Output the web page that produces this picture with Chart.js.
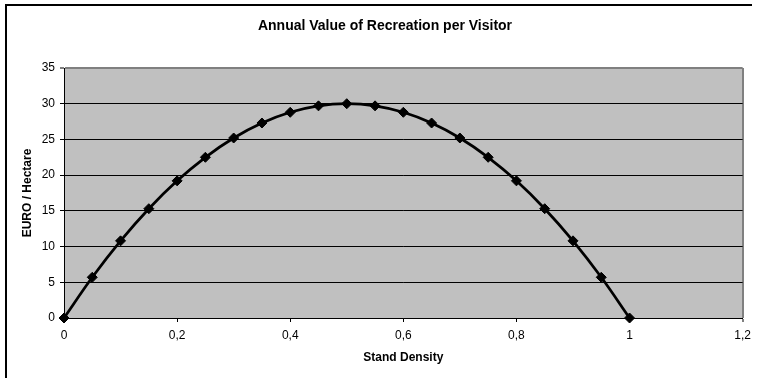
<!DOCTYPE html>
<html>
<head>
<meta charset="utf-8">
<script src="https://cdn.jsdelivr.net/npm/chart.js@4/dist/chart.umd.min.js"></script>
<style>
  html, body { margin: 0; padding: 0; background: #fff; overflow: hidden; }
  #wrap { width: 757px; height: 378px; position: relative; }
</style>
</head>
<body>
<div id="wrap"><canvas id="c" width="757" height="378"></canvas></div>
<script>
// Stand density (x) and the annual value of recreation per visitor (EURO / hectare)
const standDensity = [0, 0.05, 0.1, 0.15, 0.2, 0.25, 0.3, 0.35, 0.4, 0.45, 0.5,
                      0.55, 0.6, 0.65, 0.7, 0.75, 0.8, 0.85, 0.9, 0.95, 1];
const euroPerHectare = [0, 5.7, 10.8, 15.3, 19.2, 22.5, 25.2, 27.3, 28.8, 29.7, 30,
                        29.7, 28.8, 27.3, 25.2, 22.5, 19.2, 15.3, 10.8, 5.7, 0];
const xTickValues = [0, 0.2, 0.4, 0.6, 0.8, 1, 1.2];
const yTickValues = [0, 5, 10, 15, 20, 25, 30, 35];

const chartTitle = 'Annual Value of Recreation per Visitor';
const xTitle = 'Stand Density';
const yTitle = 'EURO / Hectare';

const FONT = '"Liberation Sans", Arial, Helvetica, sans-serif';

const points = standDensity.map((x, i) => ({ x: x, y: euroPerHectare[i] }));

// grey plot area, outer frame and the chart heading
const framePlugin = {
  id: 'frame',
  beforeDraw(chart) {
    const { ctx, chartArea: a } = chart;
    ctx.save();
    ctx.fillStyle = '#fff';
    ctx.fillRect(0, 0, chart.width, chart.height);
    ctx.fillStyle = '#C0C0C0';
    ctx.fillRect(a.left, a.top, a.right - a.left, a.bottom - a.top);
    ctx.restore();
  },
  afterDraw(chart) {
    const ctx = chart.ctx;
    ctx.save();
    ctx.strokeStyle = '#000';
    ctx.lineWidth = 2;
    ctx.beginPath();
    ctx.moveTo(6, chart.height + 2);
    ctx.lineTo(6, 5);
    ctx.lineTo(752, 5);
    ctx.stroke();
    ctx.fillStyle = '#000';
    ctx.font = 'bold 14px ' + FONT;
    ctx.textAlign = 'center';
    ctx.textBaseline = 'middle';
    ctx.fillText(chartTitle, 385, 26);
    ctx.restore();
  }
};

const fmt = v => String(Math.round(v * 10) / 10).replace('.', ',');

new Chart(document.getElementById('c'), {
  type: 'scatter',
  data: {
    datasets: [{
      data: points,
      showLine: true,
      borderColor: '#000',
      borderWidth: 2.75,
      tension: 0.33,
      pointStyle: 'rectRot',
      pointRadius: 5,
      pointBackgroundColor: '#000',
      pointBorderColor: '#000',
      pointBorderWidth: 1,
      clip: false
    }]
  },
  options: {
    responsive: false,
    animation: false,
    devicePixelRatio: 1,
    layout: { padding: { left: 0, top: 68, right: 12, bottom: 0 } },
    plugins: {
      legend: { display: false },
      tooltip: { enabled: false },
      title: { display: false }
    },
    scales: {
      x: {
        type: 'linear',
        min: 0,
        max: 1.2,
        afterBuildTicks: s => { s.ticks = xTickValues.map(v => ({ value: v })); },
        afterFit: s => { s.height = 60; },
        ticks: {
          callback: v => fmt(v),
          color: '#000',
          font: { family: FONT, size: 12 },
          padding: 6,
          maxRotation: 0,
          autoSkip: false
        },
        grid: {
          color: c => (c.tick && c.tick.value === 1.2) ? '#808080' : 'rgba(0,0,0,0)',
          lineWidth: c => (c.tick && c.tick.value === 1.2) ? 2 : 1,
          drawTicks: true,
          tickLength: 4,
          tickColor: '#000',
          tickWidth: 1
        },
        border: { display: true, color: '#000', width: 1 },
        title: {
          display: true,
          text: xTitle,
          color: '#000',
          font: { family: FONT, size: 12, weight: 'bold' },
          padding: { top: 0, bottom: 13 }
        }
      },
      y: {
        type: 'linear',
        min: 0,
        max: 35,
        afterBuildTicks: s => { s.ticks = yTickValues.map(v => ({ value: v })); },
        afterFit: s => { s.width = 64; },
        ticks: {
          callback: v => fmt(v),
          color: '#000',
          font: { family: FONT, size: 12 },
          padding: 5
        },
        grid: {
          color: c => (c.tick && c.tick.value === 35) ? '#808080' : '#000',
          lineWidth: c => (c.tick && c.tick.value === 35) ? 2 : 1,
          drawTicks: true,
          tickLength: 4,
          tickColor: '#000',
          tickWidth: 1
        },
        border: { display: true, color: '#000', width: 1 },
        title: {
          display: true,
          text: yTitle,
          color: '#000',
          font: { family: FONT, size: 12, weight: 'bold' },
          padding: { top: 20, bottom: 0 }
        }
      }
    }
  },
  plugins: [framePlugin]
});
</script>
</body>
</html>
